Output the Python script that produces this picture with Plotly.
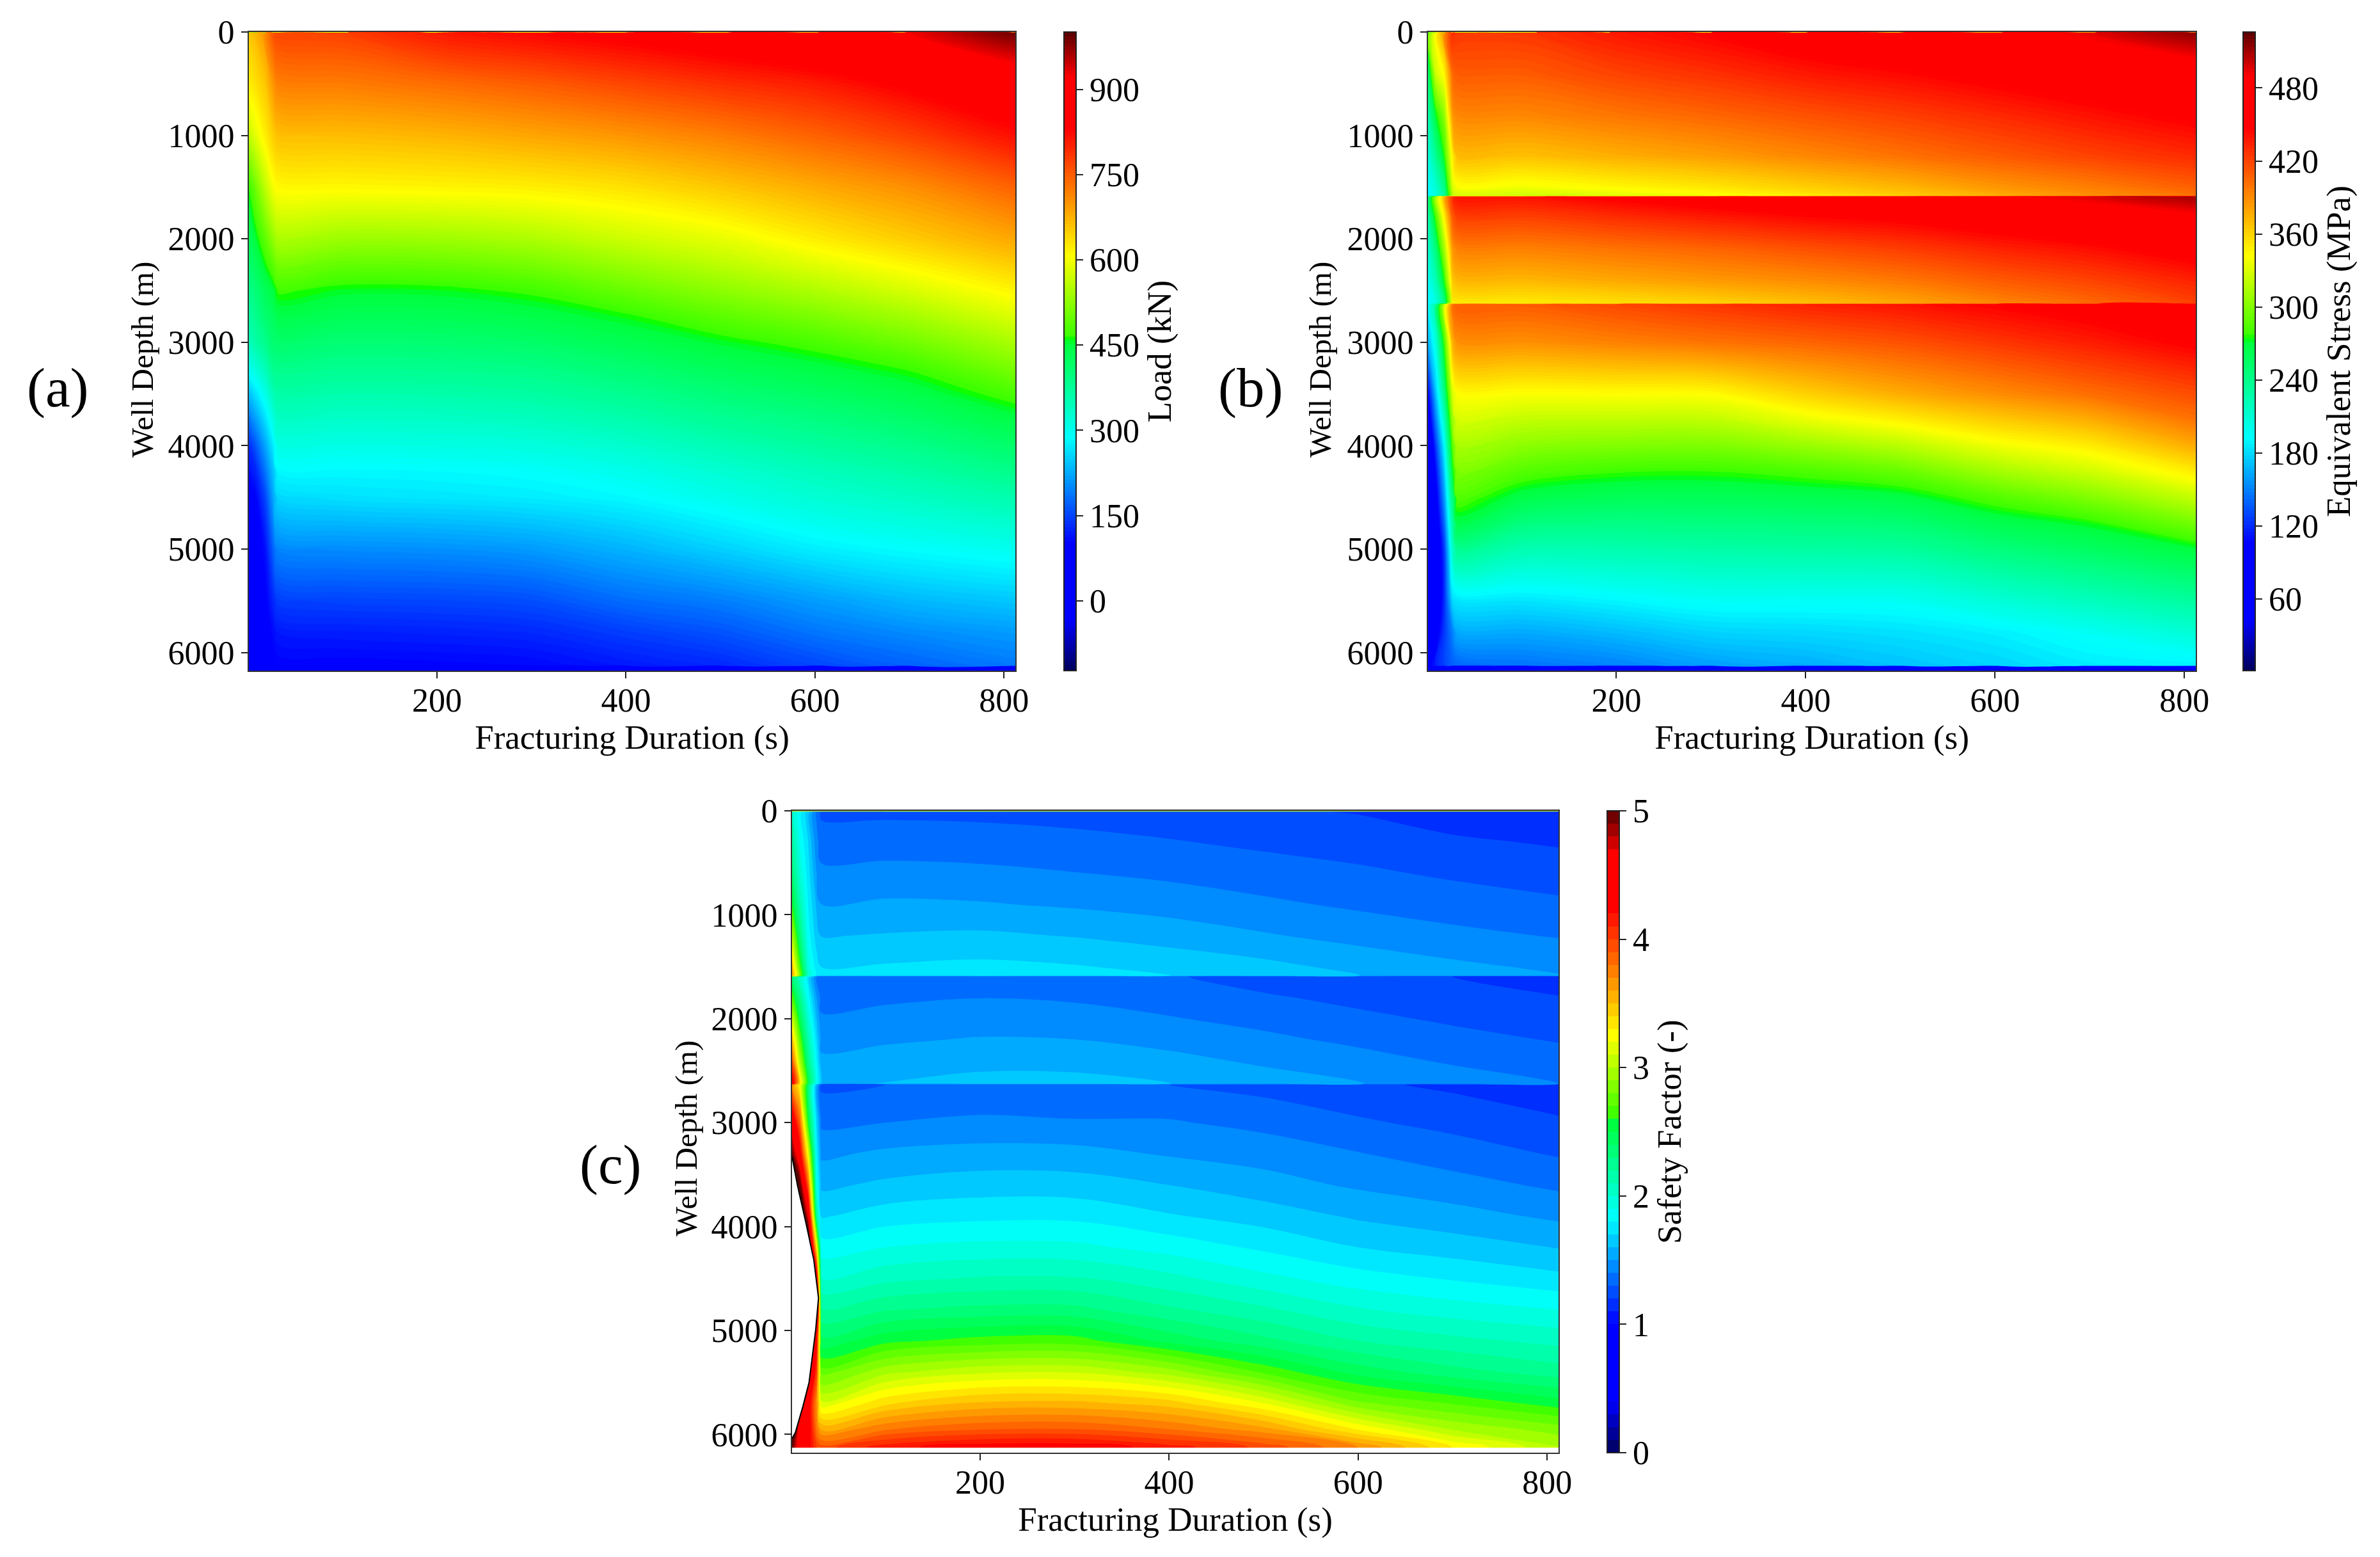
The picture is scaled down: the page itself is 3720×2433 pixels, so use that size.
import numpy as np
import plotly.graph_objects as go

W, H = 3720, 2433
FONT = "Liberation Serif"

# ---------- data ----------
duration = [1, 9, 18, 27, 32, 100, 200, 300, 400, 500, 600, 700, 812]

load_depth = [0, 8, 500, 1000, 1500, 2000, 2250, 2500, 2750, 3000, 3250, 3500, 3750, 4000, 4250, 4500, 5000, 5500, 5800, 6125, 6135, 6176]
load_t1 = [230, 650, 620, 565, 465, 430, 408, 385, 365, 345, 300, 240, 185, 130, 110, 90, 70, 60, 50, -20, 30, 30]
load_t9 = [230, 670, 635, 590, 510, 455, 430, 405, 385, 365, 322, 270, 220, 170, 130, 105, 85, 75, 70, 20, 30, 30]
load_t18 = [230, 700, 655, 620, 560, 490, 460, 430, 410, 385, 349, 305, 262, 220, 185, 150, 110, 95, 90, 80, 30, 30]
load_t27 = [230, 760, 700, 650, 600, 530, 490, 450, 425, 410, 385, 350, 312, 275, 245, 225, 175, 130, 108, 95, 30, 30]
load_t32 = [230, 770, 718, 662, 610, 546, 507, 469, 440, 414, 387, 361, 335, 308, 282, 257, 198, 145, 118, 100, 30, 30]
load_t100 = [230, 775, 722, 665, 612, 536, 495, 457, 432, 407, 382, 357, 332, 307, 283, 265, 203, 150, 122, 100, 30, 30]
load_t200 = [230, 810, 735, 672, 615, 537, 497, 458, 433, 409, 384, 359, 334, 310, 285, 269, 206, 152, 125, 102, 30, 30]
load_t300 = [230, 828, 750, 685, 620, 548, 509, 470, 442, 417, 391, 366, 341, 315, 290, 274, 214, 158, 130, 105, 30, 30]
load_t400 = [230, 845, 770, 700, 632, 570, 534, 498, 461, 435, 408, 382, 356, 329, 303, 284, 232, 180, 146, 118, 30, 30]
load_t500 = [230, 865, 790, 720, 655, 589, 558, 524, 489, 456, 429, 403, 377, 350, 324, 303, 253, 193, 162, 130, 30, 30]
load_t600 = [230, 890, 808, 745, 680, 621, 585, 549, 512, 476, 446, 420, 394, 369, 343, 323, 275, 215, 187, 152, 30, 30]
load_t700 = [230, 925, 840, 775, 705, 651, 614, 578, 541, 505, 468, 440, 414, 387, 361, 338, 288, 235, 203, 172, 30, 30]
load_t812 = [230, 990, 880, 820, 745, 684, 650, 615, 581, 546, 512, 477, 445, 416, 387, 357, 300, 246, 215, 190, 30, 30]

stress_depth = [0, 8, 400, 800, 1200, 1500, 1585, 1595, 1800, 2100, 2400, 2625, 2635, 3000, 3500, 3750, 4000, 4250, 4500,
                4750, 5000, 5500, 5800, 6125, 6135, 6176]
stress_t1 = [170, 290, 250, 225, 205, 193, 190, 235, 225, 210, 198, 190, 190, 165, 105, 85, 65, 57, 52, 46, 40, 50, 70, 100, 50, 50]
stress_t9 = [170, 342, 325, 270, 235, 210, 205, 310, 280, 245, 222, 205, 230, 205, 170, 147, 125, 108, 95, 84, 75, 80, 95, 115, 50, 50]
stress_t18 = [170, 385, 345, 305, 275, 240, 233, 370, 345, 310, 275, 245, 320, 280, 240, 215, 190, 172, 157, 141, 125, 120, 125, 128, 50, 50]
stress_t27 = [170, 430, 405, 385, 350, 330, 325, 428, 410, 385, 365, 350, 400, 375, 330, 310, 290, 272, 250, 232, 215, 180, 150, 138, 50, 50]
stress_t32 = [170, 425, 410, 392, 370, 340, 326, 440, 420, 394, 372, 350, 410, 388, 342, 328, 313, 299, 284, 266, 237, 184, 164, 140, 50, 50]
stress_t100 = [170, 425, 410, 392, 368, 338, 325, 440, 420, 394, 372, 350, 410, 388, 341, 322, 304, 285, 266, 245, 224, 184, 164, 145, 50, 50]
stress_t200 = [170, 438, 420, 399, 375, 345, 332, 450, 428, 400, 378, 354, 418, 394, 342, 321, 300, 278, 260, 242, 225, 190, 170, 150, 50, 50]
stress_t300 = [170, 448, 428, 406, 382, 352, 340, 458, 436, 406, 384, 360, 426, 400, 343, 321, 299, 277, 260, 244, 228, 196, 178, 160, 50, 50]
stress_t400 = [170, 460, 438, 414, 391, 362, 350, 468, 444, 414, 390, 368, 434, 406, 361, 335, 308, 282, 263, 246, 230, 196, 180, 165, 50, 50]
stress_t500 = [170, 470, 445, 422, 400, 372, 362, 474, 450, 422, 398, 378, 440, 414, 376, 348, 319, 291, 267, 249, 232, 197, 183, 172, 50, 50]
stress_t600 = [170, 480, 454, 431, 410, 385, 375, 486, 460, 433, 410, 392, 448, 425, 389, 363, 337, 311, 284, 263, 245, 208, 188, 178, 50, 50]
stress_t700 = [170, 495, 463, 441, 420, 395, 388, 497, 471, 442, 420, 404, 456, 436, 402, 376, 350, 326, 300, 274, 256, 219, 197, 186, 50, 50]
stress_t812 = [170, 515, 475, 452, 430, 408, 400, 510, 484, 456, 434, 420, 470, 450, 416, 400, 377, 350, 323, 296, 270, 232, 210, 188, 50, 50]

safety_depth = [0, 8, 300, 600, 900, 1200, 1500, 1585, 1595, 1800, 2000, 2200, 2400, 2625, 2635, 3000, 3300, 3600,
                3900, 4200, 4500, 4800, 5100, 5400, 5700, 5950, 6125, 6176]
safety_t1 = [3.7, 2.05, 2.2, 2.35, 2.6, 3.0, 3.5, 3.6, 2.4, 2.7, 3.1, 3.5, 3.9, 4.4, 3.7, 4.5, 5.0, 6, 7, 8, 9, 9, 9, 9, 8, 5.6, 5, 5]
safety_t9 = [3.7, 1.85, 1.9, 2.0, 2.15, 2.35, 2.7, 2.85, 2.1, 2.3, 2.5, 2.75, 3.0, 3.4, 3.3, 3.9, 4.4, 5.1, 5.6, 7, 8, 8, 8, 7, 5.2, 4.5, 4.5, 4.5]
safety_t18 = [3.7, 1.65, 1.7, 1.75, 1.8, 1.85, 1.95, 2.0, 1.75, 1.85, 2.0, 2.15, 2.3, 2.5, 2.4, 2.6, 3.2, 3.9, 4.7, 5.5, 6, 6, 6, 5.0, 4.4, 4.4, 4.3, 4.3]
safety_t27 = [3.7, 1.38, 1.43, 1.5, 1.58, 1.65, 1.75, 1.78, 1.4, 1.5, 1.6, 1.7, 1.8, 1.85, 1.6, 1.7, 1.8, 1.9, 2.2, 3.3, 4.5, 5.2, 4.3, 4.0, 3.7, 3.8, 4.0, 4.0]
safety_t32 = [3.7, 1.28, 1.35, 1.424, 1.501, 1.595, 1.699, 1.73, 1.309, 1.362, 1.415, 1.467, 1.52, 1.581, 1.28, 1.38, 1.48, 1.58, 1.69, 1.85, 2.0, 2.21, 2.43, 2.75, 3.13, 3.59, 3.95, 3.95]
safety_t100 = [3.7, 1.28, 1.353, 1.431, 1.516, 1.607, 1.71, 1.74, 1.322, 1.382, 1.435, 1.486, 1.541, 1.603, 1.30, 1.40, 1.52, 1.62, 1.75, 1.90, 2.07, 2.29, 2.57, 2.97, 3.38, 3.79, 4.16, 4.16]
safety_t200 = [3.7, 1.275, 1.346, 1.423, 1.508, 1.618, 1.725, 1.76, 1.334, 1.399, 1.452, 1.507, 1.567, 1.634, 1.32, 1.42, 1.54, 1.65, 1.775, 1.93, 2.11, 2.33, 2.64, 3.08, 3.52, 3.89, 4.27, 4.27]
safety_t300 = [3.7, 1.26, 1.331, 1.403, 1.486, 1.594, 1.707, 1.74, 1.324, 1.387, 1.444, 1.5, 1.563, 1.634, 1.31, 1.41, 1.535, 1.645, 1.775, 1.925, 2.11, 2.33, 2.65, 3.09, 3.53, 3.9, 4.28, 4.28]
safety_t400 = [3.7, 1.24, 1.307, 1.378, 1.458, 1.556, 1.671, 1.703, 1.311, 1.358, 1.407, 1.466, 1.529, 1.604, 1.30, 1.41, 1.49, 1.6, 1.71, 1.86, 2.03, 2.22, 2.47, 2.95, 3.45, 3.8, 4.15, 4.15]
safety_t500 = [3.7, 1.215, 1.279, 1.347, 1.419, 1.51, 1.63, 1.663, 1.257, 1.314, 1.368, 1.423, 1.481, 1.55, 1.265, 1.37, 1.46, 1.54, 1.655, 1.78, 1.93, 2.12, 2.33, 2.68, 3.2, 3.64, 3.97, 3.97]
safety_t600 = [3.7, 1.194, 1.254, 1.318, 1.383, 1.465, 1.571, 1.604, 1.229, 1.274, 1.323, 1.377, 1.437, 1.507, 1.22, 1.315, 1.405, 1.485, 1.585, 1.70, 1.845, 2.01, 2.2, 2.46, 2.82, 3.29, 3.7, 3.7]
safety_t700 = [3.7, 1.15, 1.216, 1.284, 1.352, 1.426, 1.523, 1.556, 1.2, 1.243, 1.284, 1.332, 1.385, 1.456, 1.18, 1.27, 1.35, 1.44, 1.54, 1.65, 1.79, 1.95, 2.13, 2.34, 2.69, 2.99, 3.3, 3.3]
safety_t812 = [3.7, 1.115, 1.189, 1.252, 1.319, 1.393, 1.48, 1.506, 1.16, 1.205, 1.249, 1.292, 1.343, 1.4, 1.13, 1.216, 1.29, 1.38, 1.48, 1.595, 1.73, 1.9, 2.07, 2.25, 2.55, 2.85, 3.01, 3.01]

# values above 5 and the last rows are left unfilled in panel (c)
gap_duration = [1, 7, 16, 24, 29, 26, 19, 12.4, 4.5, 1]
gap_depth = [3330, 3615, 3978, 4320, 4686, 4994, 5500, 5733, 5982, 6040]
strip_duration = [1, 812, 812, 1]
strip_depth = [6128, 6128, 6176, 6176]

depth_ticks = [0, 1000, 2000, 3000, 4000, 5000, 6000]
duration_ticks = [200, 400, 600, 800]
load_ticks = [0, 150, 300, 450, 600, 750, 900]
stress_ticks = [60, 120, 180, 240, 300, 360, 420, 480]
safety_ticks = [0, 1, 2, 3, 4, 5]

COLORS = [[0, "rgb(0,0,90)"], [0.08, "rgb(0,0,255)"], [0.2, "rgb(0,0,255)"], [0.365, "rgb(0,255,255)"],
          [0.514, "rgb(0,255,60)"], [0.52, "rgb(0,255,0)"], [0.526, "rgb(60,255,0)"], [0.65, "rgb(255,255,0)"],
          [0.85, "rgb(255,0,0)"], [0.93, "rgb(255,0,0)"], [1, "rgb(90,0,0)"]]

TICK = 52
TITLE = 53


def columns(*cols):
    return np.array(cols, dtype=float).T


panels = [
    dict(axis="", box=(389, 1587, 50, 1048), cb=1663, z=columns(load_t1, load_t9, load_t18, load_t27, load_t32, load_t100,
         load_t200, load_t300, load_t400, load_t500, load_t600, load_t700, load_t812), y=load_depth,
         lim=(-123, 1001, 6), ticks=load_ticks, title="Load (kN)", tag="(a)", tagx=90, tagy=605, wx=223, wy=562),
    dict(axis="2", box=(2232, 3432, 50, 1048), cb=3506, z=columns(stress_t1, stress_t9, stress_t18, stress_t27, stress_t32,
         stress_t100, stress_t200, stress_t300, stress_t400, stress_t500, stress_t600, stress_t700, stress_t812), y=stress_depth,
         lim=(1, 526, 3), ticks=stress_ticks, title="Equivalent Stress (MPa)", tag="(b)", tagx=1954, tagy=605, wx=2064, wy=562),
    dict(axis="3", box=(1238, 2436, 1267, 2270), cb=2512, z=columns(safety_t1, safety_t9, safety_t18, safety_t27, safety_t32,
         safety_t100, safety_t200, safety_t300, safety_t400, safety_t500, safety_t600, safety_t700, safety_t812), y=safety_depth,
         lim=(0, 5, 0.1), ticks=safety_ticks, title="Safety Factor (-)", tag="(c)", tagx=954, tagy=1819, wx=1072, wy=1779),
]

fig = go.Figure()
layout = dict(width=W, height=H, margin=dict(l=0, r=0, t=0, b=0, pad=0, autoexpand=False), paper_bgcolor="white",
              plot_bgcolor="white", showlegend=False, font=dict(family=FONT, color="black", size=TICK))
notes = []
for p in panels:
    x0, x1, y0, y1 = p["box"]
    lo, hi, step = p["lim"]
    fig.add_trace(go.Contour(
        x=duration, y=p["y"], z=p["z"], xaxis="x" + p["axis"], yaxis="y" + p["axis"],
        colorscale=COLORS, zmin=lo, zmax=hi, autocontour=False,
        contours=dict(start=lo, end=hi, size=step, coloring="fill", showlines=False),
        line=dict(width=0), hoverinfo="skip",
        colorbar=dict(
            x=p["cb"] / W, xanchor="left", xpad=0, ypad=0, y=1 - y0 / H, yanchor="top",
            len=(y1 - y0) / H, lenmode="fraction", thickness=19, thicknessmode="pixels",
            outlinewidth=2, outlinecolor="#222222", borderwidth=0, tickmode="array", tickvals=p["ticks"],
            ticks="outside", ticklen=10, tickwidth=2, tickcolor="#222222",
            tickfont=dict(family=FONT, size=TICK), title=dict(text=p["title"], side="right", font=dict(family=FONT, size=TITLE)),
        ),
    ))
    ax = dict(showline=True, mirror=True, linewidth=2, linecolor="#333333", ticks="outside", ticklen=10, tickwidth=2,
              tickcolor="#222222", showgrid=False, zeroline=False, tickfont=dict(family=FONT, size=TICK))
    layout["xaxis" + p["axis"]] = dict(ax, domain=[x0 / W, x1 / W], range=[1, 812], tickmode="array", tickvals=duration_ticks,
                                       anchor="y" + p["axis"], ticklabelstandoff=-10,
                                       title=dict(text="Fracturing Duration (s)", standoff=8, font=dict(family=FONT, size=TITLE)))
    layout["yaxis" + p["axis"]] = dict(ax, domain=[1 - y1 / H, 1 - y0 / H], range=[6176, 0], tickmode="array", tickvals=depth_ticks,
                                       anchor="x" + p["axis"])
    notes.append(dict(text="Well Depth (m)", xref="paper", yref="paper", x=p["wx"] / W, y=1 - p["wy"] / H, xanchor="center",
                      yanchor="middle", textangle=-90, showarrow=False, font=dict(family=FONT, size=49)))
    notes.append(dict(text=p["tag"], xref="paper", yref="paper", x=p["tagx"] / W, y=1 - p["tagy"] / H, xanchor="center",
                      yanchor="middle", showarrow=False, font=dict(family=FONT, size=87)))

fig.add_trace(go.Scatter(x=gap_duration, y=gap_depth, xaxis="x3", yaxis="y3", mode="lines", fill="toself", fillcolor="white",
                         line=dict(color="black", width=2), hoverinfo="skip"))
fig.add_trace(go.Scatter(x=strip_duration, y=strip_depth, xaxis="x3", yaxis="y3", mode="lines", fill="toself", fillcolor="white",
                         line=dict(color="rgba(0,0,0,0)", width=0), hoverinfo="skip"))

layout["annotations"] = notes
fig.update_layout(**layout)
fig.write_html("out.html", post_script="document.body.style.margin='0';", config={"displayModeBar": False})
